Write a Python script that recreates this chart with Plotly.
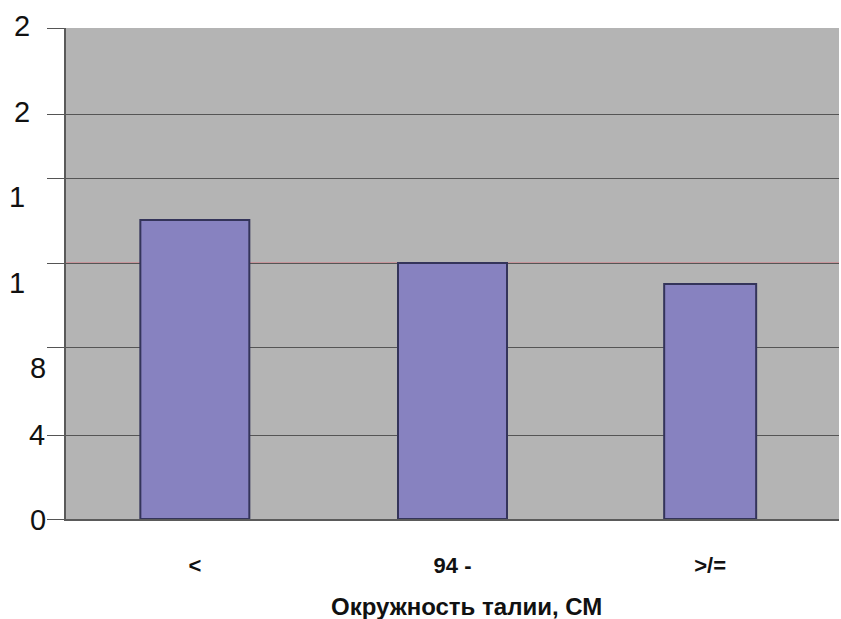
import plotly.graph_objects as go

# Waist-circumference groups and their values (reference level = 1.0)
categories = ["<", "94 -", ">/="]
values = [1.168, 1.0, 0.918]
bar_widths = [0.423, 0.423, 0.357]

# Gridline / tick positions on the value axis
grid_vals = [0, 0.328, 0.668, 1.0, 1.332, 1.582, 1.918]
# Value-axis labels: text, vertical position (axis units), right edge (px from left)
ytick_text = ["0", "4", "8", "1", "1", "2", "2"]
ytick_pos = [-0.004, 0.328, 0.590, 0.922, 1.258, 1.590, 1.926]
ytick_right = [48, 47, 48, 27, 27, 32, 32]

reference_level = 1.0
x_title = "Окружность талии, СМ"

W, H = 841, 619
ML, MR, MT, MB = 66, 2, 28, 100
plot_w = W - ML - MR
plot_h = H - MT - MB
y_max = 1.918

fig = go.Figure()
fig.add_trace(go.Bar(
    x=categories,
    y=values,
    width=bar_widths,
    marker=dict(color="#8782c0", line=dict(color="#34345a", width=2)),
    hoverinfo="x+y",
))

fig.add_hline(y=reference_level, line=dict(color="#cc8890", width=1.5), layer="below")

# Value-axis labels placed in paper space so the end labels are not clipped
for txt, yv, xr in zip(ytick_text, ytick_pos, ytick_right):
    fig.add_annotation(
        text=txt, xref="paper", yref="paper",
        x=(xr - ML) / plot_w, y=yv / y_max,
        xanchor="right", yanchor="middle", showarrow=False,
        font=dict(family="Liberation Sans, Arial, sans-serif", size=29, color="#111"),
    )

fig.add_annotation(
    text=f"<b>{x_title}</b>", xref="paper", yref="paper",
    x=(466 - ML) / plot_w, y=-(606 - (H - MB)) / plot_h,
    xanchor="center", yanchor="middle", showarrow=False,
    font=dict(family="Liberation Sans, Arial, sans-serif", size=24, color="#111"),
)

fig.update_layout(
    width=W, height=H,
    margin=dict(l=ML, r=MR, t=MT, b=MB),
    paper_bgcolor="white",
    plot_bgcolor="#b4b4b4",
    showlegend=False,
    xaxis=dict(
        type="category",
        tickfont=dict(family="Liberation Sans, Arial, sans-serif", size=22, color="#111", weight="bold"),
        ticks="",
        ticklabelstandoff=26,
        showline=True, linecolor="#5a5a5a", linewidth=2,
        showgrid=False,
    ),
    yaxis=dict(
        range=[0, y_max],
        tickvals=grid_vals,
        showticklabels=False,
        ticks="outside", ticklen=17, tickcolor="#555", tickwidth=1,
        showgrid=True, gridcolor="#555555", gridwidth=1,
        showline=True, linecolor="#5a5a5a", linewidth=2,
        zeroline=False,
    ),
)

fig.write_html("out.html")
